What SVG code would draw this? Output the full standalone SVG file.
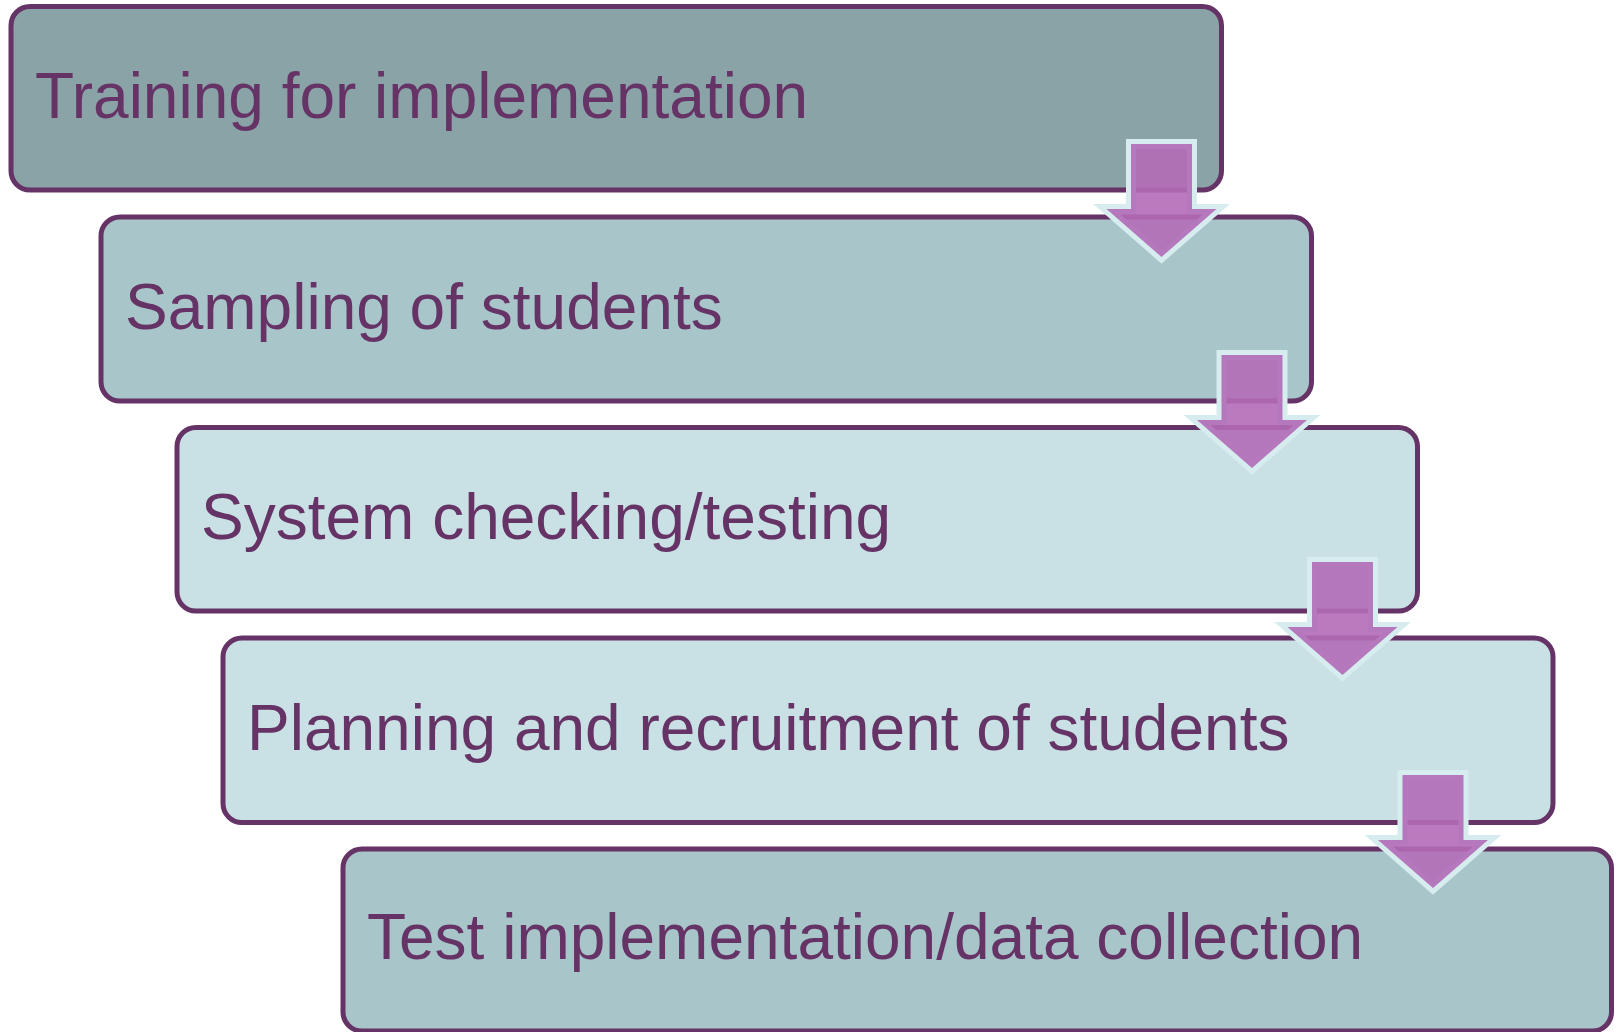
<svg xmlns="http://www.w3.org/2000/svg" width="1619" height="1032" viewBox="0 0 1619 1032">
<style>
.box{stroke:#663366;stroke-width:5}
.b1{fill:#8AA3A6}
.b2{fill:#A8C6C9}
.b3{fill:#C9E1E4}
.lbl{font-family:"Liberation Sans",Arial,sans-serif;font-size:64px;fill:#663366}
.arr{fill:#B36CB6;fill-opacity:0.9;stroke:#D6ECEE;stroke-width:10;stroke-linejoin:miter;stroke-miterlimit:10;paint-order:stroke}
</style>
<g id="node1"><rect class="box b1" x="11" y="6.5" width="1210.5" height="183.5" rx="19"/><text class="lbl" x="35" y="118">Training for implementation</text></g>
<g id="node2"><rect class="box b2" x="101" y="217" width="1210.5" height="184" rx="19"/><text class="lbl" x="125" y="329">Sampling of students</text></g>
<g id="node3"><rect class="box b3" x="177" y="427.5" width="1240.5" height="183.5" rx="19"/><text class="lbl" x="201" y="539">System checking/testing</text></g>
<g id="node4"><rect class="box b3" x="223" y="638" width="1330" height="184.5" rx="19"/><text class="lbl" x="247" y="750">Planning and recruitment of students</text></g>
<g id="node5"><rect class="box b2" x="343" y="849" width="1268.5" height="182" rx="19"/><text class="lbl" x="367" y="959">Test implementation/data collection</text></g>
<g id="connectors">
<path class="arr" transform="translate(1161.5,144)" d="M-30.5,0 H30.5 V65 H55 L0,113 L-55,65 H-30.5 Z"/>
<path class="arr" transform="translate(1252,355)" d="M-30.5,0 H30.5 V65 H55 L0,113 L-55,65 H-30.5 Z"/>
<path class="arr" transform="translate(1342.5,562)" d="M-30.5,0 H30.5 V65 H55 L0,113 L-55,65 H-30.5 Z"/>
<path class="arr" transform="translate(1433,775)" d="M-30.5,0 H30.5 V65 H55 L0,113 L-55,65 H-30.5 Z"/>
</g>
</svg>
